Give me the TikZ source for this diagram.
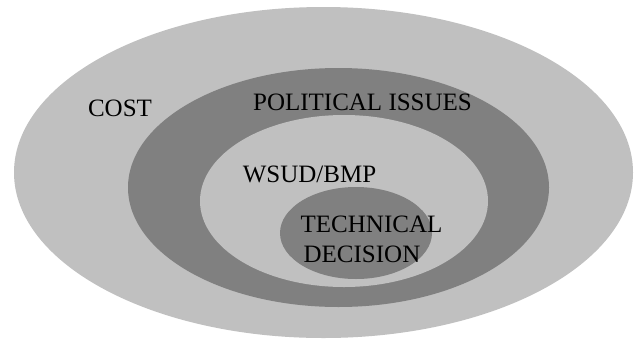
\documentclass[tikz,border=0pt]{standalone}
\usepackage{fontspec}
\setmainfont{Liberation Serif}
\usetikzlibrary{shapes.geometric}
\definecolor{lightg}{HTML}{C0C0C0}
\definecolor{darkg}{HTML}{808080}
\begin{document}
\begin{tikzpicture}[x=1pt,y=-1pt,
  ring/.style={ellipse,inner sep=0pt,draw=none},
  lbl/.style={anchor=base,inner sep=0pt,font=\fontsize{25pt}{27pt}\selectfont,text=black}]
\fill[white] (0,0) rectangle (640,338);
\useasboundingbox (0,0) rectangle (640,338);
\node[ring,fill=lightg,minimum width=619pt,minimum height=331pt] (cost) at (323.5,172.5) {};
\node[ring,fill=darkg,minimum width=421pt,minimum height=239pt] (pol) at (338.5,187.5) {};
\node[ring,fill=lightg,minimum width=288pt,minimum height=172pt] (wsud) at (344,201) {};
\node[ring,fill=darkg,minimum width=152pt,minimum height=92pt] (tech) at (356,233) {};
\node[lbl] (tcost) at (120,116.5) {COST};
\node[lbl] (tpol) at (362.5,110) {POLITICAL ISSUES};
\node[lbl] (twsud) at (309.5,182) {WSUD/BMP};
\node[lbl] (ttech) at (371.5,232) {TECHNICAL};
\node[lbl] (tdec) at (362,262) {DECISION};
\end{tikzpicture}
\end{document}
